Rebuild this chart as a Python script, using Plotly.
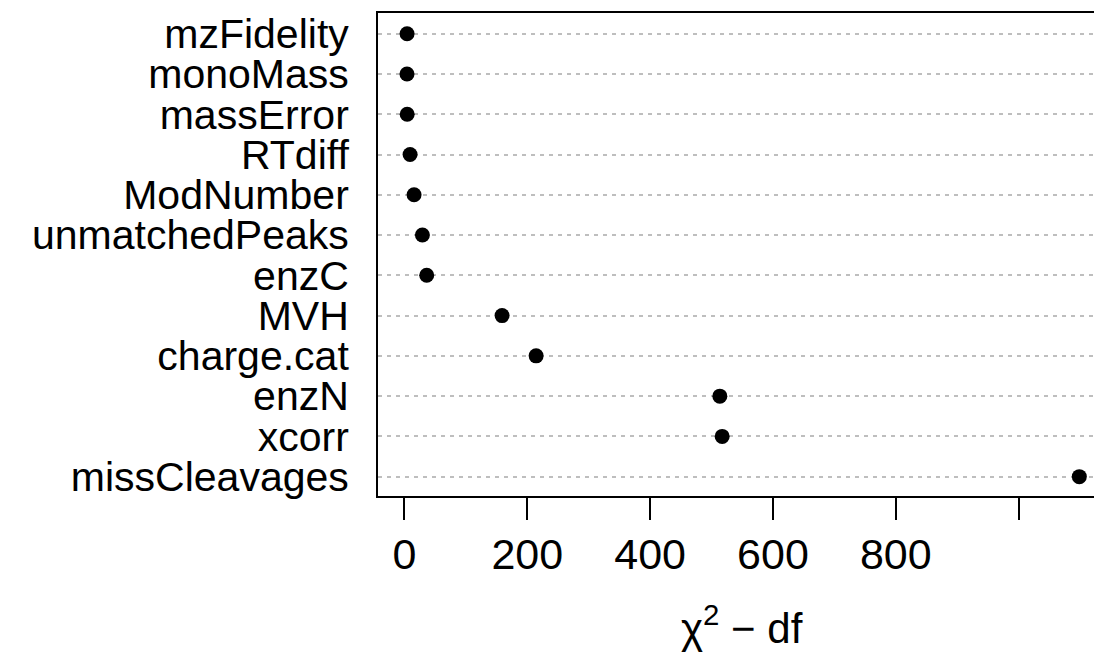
import plotly.graph_objects as go

labels = ["mzFidelity", "monoMass", "massError", "RTdiff", "ModNumber",
          "unmatchedPeaks", "enzC", "MVH", "charge.cat", "enzN", "xcorr",
          "missCleavages"]
values = [4.3, 4.2, 4.5, 9.2, 15.7, 29.3, 36.3, 159, 214.4, 513.5, 517.3, 1098.7]
x_tickvals = [0, 200, 400, 600, 800, 1000]
x_ticktext = ["0", "200", "400", "600", "800", ""]

n = len(labels)
ypos = [n - i for i in range(n)]

FONT = "Liberation Sans, Arial, Helvetica, sans-serif"

fig = go.Figure()
fig.add_trace(go.Scatter(
    x=values, y=ypos, mode="markers",
    marker=dict(color="black", size=15, line=dict(width=0)),
    showlegend=False, hoverinfo="skip"))

fig.update_layout(
    width=1094, height=654,
    margin=dict(l=378, r=0, t=13, b=158),
    paper_bgcolor="white", plot_bgcolor="white",
    font=dict(family=FONT, color="black"),
    xaxis=dict(
        range=[-43, 1122.6], tickvals=x_tickvals, ticktext=x_ticktext,
        ticks="outside", ticklen=22, tickwidth=2, tickcolor="black",
        showline=True, linecolor="black", linewidth=2, mirror=True,
        showgrid=False, zeroline=False, ticklabelstandoff=-3,
        tickfont=dict(size=43, family=FONT, color="black"),
    ),
    yaxis=dict(
        range=[0.52, 12.514], tickvals=ypos, ticktext=labels,
        ticks="", showline=True, linecolor="black", linewidth=2, mirror=False,
        showgrid=True, gridcolor="#BEBEBE", gridwidth=1.5, griddash="4px,5px",
        zeroline=False, ticklabelstandoff=19,
        tickfont=dict(size=41, family=FONT, color="black"),
    ),
    annotations=[dict(
        text="χ<sup>2</sup> − df", xref="paper", yref="paper",
        x=0.508, y=0, yshift=-158, xanchor="center", yanchor="bottom",
        showarrow=False, font=dict(size=42, family=FONT, color="black"))],
)

fig.write_html("out.html")
